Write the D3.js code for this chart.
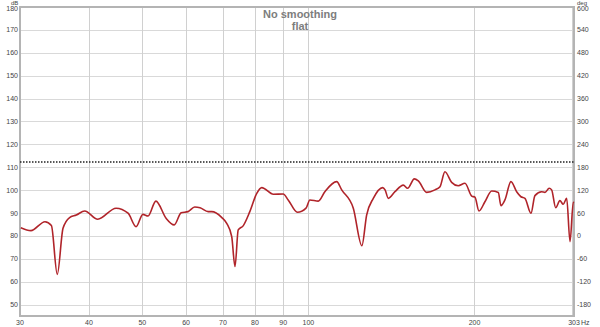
<!DOCTYPE html>
<html>
<head>
<meta charset="utf-8">
<script src="https://cdn.jsdelivr.net/npm/d3@7"></script>
<style>
  body { margin: 0; background: #fff; }
  text { font-family: "Liberation Sans", Arial, sans-serif; }
</style>
</head>
<body>
<div id="chart"></div>
<script>
// frequency response
var freq = [30.1, 31.4, 33.3, 34.2, 35.05, 35.9, 36.9, 37.95, 39.3, 41.5, 44.8, 47.1, 48.7, 50.1, 51.2, 52.9,
  55.2, 57.1, 58.8, 60.5, 62.2, 63.6, 65.8, 66.8, 69.6, 71.1, 72.6, 73.6, 74.6, 76.2, 78.3, 80.6, 82.3,
  86.4, 90.0, 91.9, 95.5, 99.0, 100.6, 104.2, 107.1, 112.5, 114.9, 120.6, 125.0, 127.5, 131.1, 136.3,
  137.7, 139.6, 143.5, 148.6, 151.3, 155.6, 158.2, 163.8, 169.6, 173.2, 176.8, 181.8, 186.9, 192.2,
  197.7, 200.4, 203.8, 208.9, 214.9, 220.9, 223.4, 227.1, 232.9, 238.5, 242.8, 246.9, 253.2, 257.4,
  264.7, 268.4, 273.2, 276.0, 280.7, 285.7, 289.7, 293.9, 298.0, 302.1, 303];
var spl = [83.6, 82.3, 86.2, 84.5, 63.2, 83.3, 88.0, 89.1, 90.9, 87.3, 92.1, 89.9, 84.0, 89.4, 88.7, 95.2,
  87.7, 84.8, 90.1, 90.6, 92.6, 92.3, 90.6, 90.6, 88.1, 85.5, 79.7, 66.6, 82.6, 84.5, 90.6, 98.6, 101.1,
  98.2, 98.3, 95.7, 90.3, 92.1, 95.7, 95.2, 99.3, 103.7, 100.1, 92.1, 75.7, 89.1, 96.4, 101.1,
  100.1, 96.4, 99.3, 102.2, 100.8, 104.9, 104.0, 99.0, 100.1, 101.5, 108.0, 103.4, 101.9, 103.0,
  97.4, 96.9, 90.9, 94.9, 99.6, 99.0, 93.2, 95.7, 103.7, 99.3, 97.1, 96.4, 89.9, 97.6,
  99.3, 99.0, 100.8, 100.1, 92.3, 95.4, 93.8, 96.4, 77.5, 94.7, 94.5];

var targetLevel = 112.3;
var dbTicks = [50, 60, 70, 80, 90, 100, 110, 120, 130, 140, 150, 160, 170, 180];
var degTicks = [-180, -120, -60, 0, 60, 120, 180, 240, 300, 360, 420, 480, 540, 600];
var freqTicks = [30, 40, 50, 60, 70, 80, 90, 100, 200];
var freqGrid = [40, 50, 60, 70, 80, 90, 100, 200, 300];
var titleLines = ["No smoothing", "flat"];

var W = 600, H = 327;
var pLeft = 20, pRight = 574, pTop = 7, pBottom = 316;

var svg = d3.select("#chart").append("svg")
  .attr("width", W).attr("height", H);

var x = d3.scaleLog().domain([30, 303]).range([pLeft, pRight]);
var y = d3.scaleLinear().domain([45, 180]).range([pBottom, pTop]);
var y2 = d3.scaleLinear().domain([-210, 600]).range([pBottom, pTop]);

// grid
svg.selectAll(".hgrid")
  .data(dbTicks.filter(function(d){ return d < 180; }))
  .enter().append("line")
    .attr("x1", pLeft).attr("x2", pRight)
    .attr("y1", function(d){ return Math.round(y(d)) + 0.5; })
    .attr("y2", function(d){ return Math.round(y(d)) + 0.5; })
    .attr("stroke", "#d9d9d9").attr("stroke-width", 1);

svg.selectAll(".vgrid")
  .data(freqGrid)
  .enter().append("line")
    .attr("x1", function(d){ return Math.round(x(d)) + 0.5; })
    .attr("x2", function(d){ return Math.round(x(d)) + 0.5; })
    .attr("y1", pTop).attr("y2", pBottom)
    .attr("stroke", "#d0d0d0").attr("stroke-width", 1);

// frame
svg.append("rect")
  .attr("x", pLeft).attr("y", pTop)
  .attr("width", pRight - pLeft).attr("height", pBottom - pTop)
  .attr("fill", "none").attr("stroke", "#b4b4b4").attr("stroke-width", 2);

// target line
svg.append("line")
  .attr("x1", pLeft).attr("x2", pRight)
  .attr("y1", y(targetLevel)).attr("y2", y(targetLevel))
  .attr("stroke", "#222").attr("stroke-width", 1.5)
  .attr("stroke-dasharray", "1.5,1.5");

// response curve
var line = d3.line()
  .x(function(d, i){ return x(freq[i]); })
  .y(function(d){ return y(d); })
  .curve(d3.curveMonotoneX);

svg.append("path")
  .datum(spl)
  .attr("d", line)
  .attr("fill", "none")
  .attr("stroke", "#b0242a")
  .attr("stroke-width", 1.6)
  .attr("stroke-linejoin", "round");

// left axis labels
svg.selectAll(".dblab")
  .data(dbTicks)
  .enter().append("text")
    .attr("x", pLeft - 2)
    .attr("y", function(d){ return d == 180 ? y(d) + 4 : y(d) + 2.5; })
    .attr("text-anchor", "end")
    .attr("font-size", 7)
    .attr("fill", "#444")
    .text(function(d){ return d; });
svg.append("text").attr("x", 11).attr("y", 5).attr("font-size", 6).attr("fill", "#444").text("dB");

// right axis labels
svg.selectAll(".deglab")
  .data(degTicks)
  .enter().append("text")
    .attr("x", pRight + 3)
    .attr("y", function(d){ return d == 600 ? y2(d) + 4 : y2(d) + 2.5; })
    .attr("font-size", 7)
    .attr("fill", "#444")
    .text(function(d){ return d; });
svg.append("text").attr("x", pRight + 3).attr("y", 5).attr("font-size", 6).attr("fill", "#444").text("deg");

// bottom labels
svg.selectAll(".flab")
  .data(freqTicks)
  .enter().append("text")
    .attr("x", function(d){ return x(d); })
    .attr("y", pBottom + 9)
    .attr("text-anchor", "middle")
    .attr("font-size", 7)
    .attr("fill", "#444")
    .text(function(d){ return d; });
svg.append("text").attr("x", pRight).attr("y", pBottom + 9)
  .attr("text-anchor", "middle").attr("font-size", 7).attr("fill", "#444").text("303");
svg.append("text").attr("x", pRight + 7).attr("y", pBottom + 9)
  .attr("font-size", 7).attr("fill", "#444").text("Hz");

// title
svg.selectAll(".title")
  .data(titleLines)
  .enter().append("text")
    .attr("x", 300)
    .attr("y", function(d, i){ return 18 + i * 12; })
    .attr("text-anchor", "middle")
    .attr("font-size", 11)
    .attr("font-weight", "bold")
    .attr("fill", "#7d7d7d")
    .text(function(d){ return d; });
</script>
</body>
</html>
